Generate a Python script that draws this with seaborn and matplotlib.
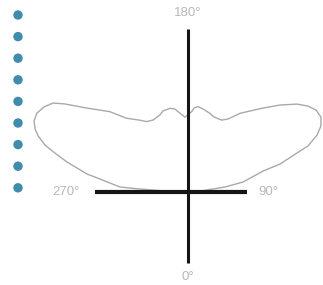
import numpy as np
import pandas as pd
import matplotlib
matplotlib.use("Agg")
import matplotlib.pyplot as plt
import seaborn as sns

# pattern: angle (deg, 0 = down, 90 = right) and relative radius
angle_deg = [0, 45, 85, 92, 96, 97.7, 100.3, 105.6, 106.9, 109.7, 111, 113.8, 116.4,
             119.4, 122.6, 125.6, 128.9, 133.4, 138.2, 146.5, 149.1, 151.3, 154.9,
             160.9, 164.4, 169.8, 173.3, 175.9, 177.4, 182.3, 187.1, 188.9, 192.1,
             197.2, 200, 205.9, 210.4, 214.2, 219.8, 224.2, 227, 230.3,
             234.4, 236.6, 239.4, 242.4, 245.2, 247.6, 249.5, 251.8, 253.7, 256.1,
             259.9, 261.6, 265.8, 266.3, 266.8, 268, 270, 280, 315, 360]
radius = [0.01, 0.01, 0.02, 0.05, 0.095, 0.187, 0.28, 0.39, 0.481, 0.579, 0.643, 0.705, 0.742,
          0.763, 0.76, 0.738, 0.70, 0.633, 0.563, 0.472, 0.439, 0.416, 0.397,
          0.397, 0.408, 0.422, 0.43, 0.421, 0.402, 0.374, 0.405, 0.42, 0.428,
          0.424, 0.41, 0.40, 0.408, 0.435, 0.48, 0.56, 0.60, 0.657,
          0.756, 0.808, 0.836, 0.852, 0.848, 0.827, 0.80, 0.753, 0.693, 0.623,
          0.513, 0.445, 0.341, 0.265, 0.18, 0.10, 0.05, 0.02, 0.01, 0.01]

axis_labels = ["0°", "90°", "180°", "270°"]
axis_angles = [0, 90, 180, 270]
n_bullets = 9

sns.set_style("white")
plt.rcParams["font.family"] = ["Liberation Sans", "DejaVu Sans"]

fig = plt.figure(figsize=(3.23, 2.85), dpi=100)

# polar axes centred on the cross, radius 1 = 200 px
ax = fig.add_axes([-12 / 323, -107 / 285, 400 / 323, 400 / 285], projection="polar")
ax.set_theta_zero_location("S")
ax.set_theta_direction(1)

df = pd.DataFrame({"theta": np.deg2rad(angle_deg), "r": radius})
sns.lineplot(data=df, x="theta", y="r", sort=False, estimator=None, ax=ax,
             color="#a9a9a9", linewidth=1.0)

# cross
arm_len = {0: 0.355, 90: 0.295, 180: 0.815, 270: 0.465}
arm_lw = {0: 2.2, 90: 3.0, 180: 2.2, 270: 3.0}
for a in axis_angles:
    ax.plot([np.deg2rad(a), np.deg2rad(a)], [0, arm_len[a]], color="#151515",
            lw=arm_lw[a], solid_capstyle="butt", zorder=3)

label_r = {0: 0.425, 90: 0.40, 180: 0.895, 270: 0.61}
for lab, a in zip(axis_labels, axis_angles):
    ax.text(np.deg2rad(a), label_r[a], lab, ha="center", va="center",
            color="#b8b8b8", fontsize=9.5)

ax.set_ylim(0, 1)
ax.axis("off")

# bullet column on the left
ax2 = fig.add_axes([8 / 323, (285 - 198.6) / 285, 20 / 323, 194.4 / 285])
sns.scatterplot(x=np.zeros(n_bullets), y=np.arange(n_bullets), ax=ax2,
                color="#3f8cab", s=46, edgecolor="none")
ax2.set_xlim(-1, 1)
ax2.set_ylim(n_bullets - 0.5, -0.5)
ax2.axis("off")

fig.savefig("out.png", dpi=100)
